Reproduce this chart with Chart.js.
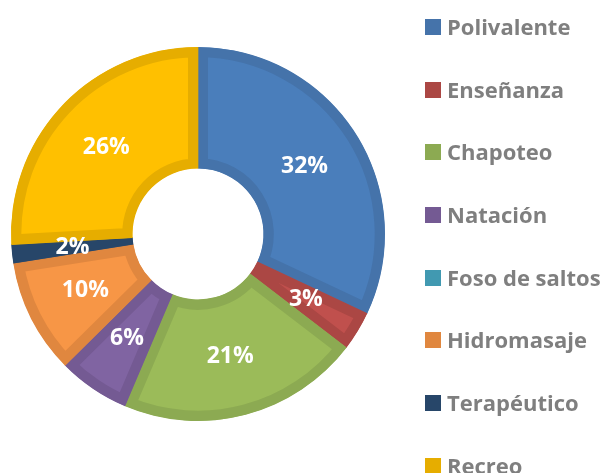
<!DOCTYPE html>
<html>
<head>
<meta charset="utf-8">
<script src="https://cdn.jsdelivr.net/npm/chart.js@4/dist/chart.umd.min.js"></script>
<style>
    body { margin: 0; background: #fff; }
    #wrap { position: relative; width: 605px; height: 473px; overflow: hidden; }
    #poolChart { position: absolute; left: 0; top: 0; }
    #legend { position: absolute; left: 425px; top: 0; }
    .item { position: absolute; left: 0; height: 16px; white-space: nowrap; }
    .item .box { position: absolute; left: 0; top: 0; width: 16px; height: 16px; }
    .item .txt {
        position: absolute; left: 22px; top: -6px;
        font: bold 22px "Open Sans", sans-serif; color: #7f7f7f; line-height: 26px;
    }
</style>
</head>
<body>
<div id="wrap">
    <canvas id="poolChart" width="605" height="473"></canvas>
    <div id="legend"></div>
</div>
<script>
const labels = ["Polivalente", "Enseñanza", "Chapoteo", "Natación", "Foso de saltos", "Hidromasaje", "Terapéutico", "Recreo"];
const shares = [32.0, 3.4, 21.0, 6.2, 0, 9.9, 1.6, 25.9];

// Office 2007 palette, fill + darker edge
const fills = ["#4a7ebb", "#c0504d", "#9bbb59", "#8064a2", "#4bacc6", "#f79646", "#2c4d75", "#ffc000"];
const edges = ["#4573aa", "#ab4744", "#8caa52", "#745a93", "#4199b1", "#e0873f", "#274669", "#e6ad00"];

// build the legend on the right
const rowStep = 62.67;
labels.forEach(function(name, i) {
    const row = document.createElement("div");
    row.className = "item";
    row.style.top = (19 + i * rowStep) + "px";
    row.innerHTML = '<span class="box" style="background:' + edges[i] + '"></span><span class="txt">' + name + '</span>';
    document.getElementById("legend").appendChild(row);
});

// white percent labels in the middle of each ring piece
const pctLabels = {
    id: "pctLabels",
    afterDatasetsDraw(chart) {
        const ctx = chart.ctx;
        const meta = chart.getDatasetMeta(0);
        const values = chart.data.datasets[0].data;
        const total = values.reduce((a, b) => a + b, 0);
        ctx.save();
        ctx.fillStyle = "#ffffff";
        ctx.font = "bold 23px 'Open Sans', sans-serif";
        ctx.textAlign = "center";
        ctx.textBaseline = "middle";
        meta.data.forEach(function(arc, i) {
            if (!values[i]) return;
            const p = arc.tooltipPosition();
            ctx.fillText(Math.round(values[i] / total * 100) + "%", p.x, p.y);
        });
        ctx.restore();
    }
};

new Chart(document.getElementById("poolChart").getContext("2d"), {
    type: "doughnut",
    data: {
        labels: labels,
        datasets: [{
            data: shares,
            backgroundColor: fills,
            borderColor: edges,
            borderWidth: 10,
            borderAlign: "inner"
        }]
    },
    options: {
        responsive: false,
        animation: false,
        devicePixelRatio: 1,
        cutout: "35%",
        layout: {
            padding: {left: 11, top: 47, right: 220, bottom: 52}
        },
        plugins: {
            legend: {display: false},
            tooltip: {enabled: false}
        }
    },
    plugins: [pctLabels]
});
</script>
</body>
</html>
